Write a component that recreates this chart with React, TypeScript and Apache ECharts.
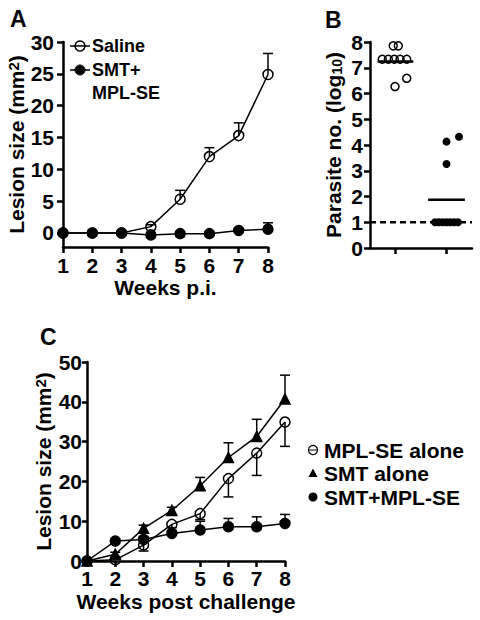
import React, { useEffect, useRef } from 'react';
import * as echarts from 'echarts';

// ---------- Panel A ----------
const weeks = [1, 2, 3, 4, 5, 6, 7, 8];
const yTicksA = [0, 5, 10, 15, 20, 25, 30];
const salineA = [0, 0, 0, 1.0, 5.3, 12.0, 15.3, 24.9];
const salineAErr = [0, 0, 0, 0.3, 1.4, 1.4, 2.0, 3.3];
const smtMplA = [0, 0, 0, -0.3, -0.1, -0.1, 0.4, 0.6];
const smtMplAErr = [0, 0, 0, 0, 0, 0, 0.3, 1.0];

// ---------- Panel B ----------
const groupPositions = [1, 3];
const salineB = [7.85, 7.85, 7.33, 7.33, 7.33, 7.33, 7.33, 6.27, 6.59];
const salineBJitter = [-0.09, 0.11, -0.52, -0.28, -0.05, 0.18, 0.44, -0.02, 0.44];
const smtMplB = [4.13, 4.32, 3.26, 1, 1, 1, 1, 1, 1, 1];
const smtMplBJitter = [0, 0.49, 0, -0.45, -0.3, -0.15, 0, 0.15, 0.3, 0.45];
const detectionLimit = 1;

// ---------- Panel C ----------
const mplC = [0, 0.3, 4.0, 9.2, 11.9, 20.7, 27.1, 34.9];
const mplCErr = [0, 0, 1.5, 0.8, 1.5, 4.6, 5.6, 6.1];
const smtC = [0, 1.7, 8.2, 12.7, 18.9, 26.0, 31.3, 40.7];
const smtCErr = [0, 0.5, 0.8, 0.8, 2.1, 3.7, 4.3, 6.0];
const comboC = [0, 5.0, 5.4, 6.9, 7.8, 8.6, 8.6, 9.4];
const comboCErr = [0, 0.5, 0.8, 0.8, 2.2, 2.1, 2.5, 2.3];

const FONT = '"Liberation Sans", Arial, Helvetica, sans-serif';
const BLACK = '#000';

const labelStyle = { color: BLACK, fontSize: 21, fontWeight: 'bold' as const, fontFamily: FONT };
const nameStyle = {
  color: BLACK,
  fontSize: 21,
  fontWeight: 'bold' as const,
  fontFamily: FONT,
  rich: {
    sup: { fontSize: 15, fontWeight: 'bold', fontFamily: FONT, color: BLACK, verticalAlign: 'top', lineHeight: 21 },
    sub: { fontSize: 14, fontWeight: 'bold', fontFamily: FONT, color: BLACK, verticalAlign: 'bottom', lineHeight: 21 },
  },
};
const axisLine = { show: true, onZero: false, lineStyle: { color: BLACK, width: 2.5 } };
const axisTick = { show: true, length: 6, lineStyle: { color: BLACK, width: 2.5 } };

const errBar = (dir: number, cap: number) => (_params: any, api: any) => {
  const x = api.value(0);
  const y = api.value(1);
  const e = api.value(2);
  if (!e) return { type: 'group', children: [] };
  const p0 = api.coord([x, y]);
  const p1 = api.coord([x, y + dir * e]);
  return {
    type: 'group',
    children: [
      { type: 'line', shape: { x1: p0[0], y1: p0[1], x2: p1[0], y2: p1[1] }, style: { stroke: BLACK, lineWidth: 1.5 } },
      { type: 'line', shape: { x1: p1[0] - cap / 2, y1: p1[1], x2: p1[0] + cap / 2, y2: p1[1] }, style: { stroke: BLACK, lineWidth: 1.5 } },
    ],
  };
};

const errSeries = (idx: number, vals: number[], errs: number[], dir: number) => ({
  type: 'custom',
  xAxisIndex: idx,
  yAxisIndex: idx,
  clip: false,
  silent: true,
  encode: { x: 0, y: 1 },
  data: weeks.map((w, i) => [w, vals[i], errs[i]]),
  renderItem: errBar(dir, 10),
  z: 2,
});

const lineSeries = (idx: number, name: string, vals: number[], symbol: string, filled: boolean, size = 10) => ({
  type: 'line',
  name,
  xAxisIndex: idx,
  yAxisIndex: idx,
  data: weeks.map((w, i) => [w, vals[i]]),
  symbol,
  symbolSize: size,
  showSymbol: true,
  clip: false,
  lineStyle: { color: BLACK, width: 1.5 },
  itemStyle: { color: filled ? BLACK : 'rgba(0,0,0,0)', borderColor: BLACK, borderWidth: 1.5 },
  z: 3,
});

const mean = (a: number[]) => a.reduce((s, v) => s + v, 0) / a.length;

const textEl = (text: string, x: number, y: number, size: number, align = 'left') => ({
  type: 'text',
  x,
  y,
  style: { text, fill: BLACK, fontSize: size, fontWeight: 'bold', fontFamily: FONT, align, verticalAlign: 'middle' },
});

const option: any = {
  animation: false,
  backgroundColor: '#fff',
  grid: [
    { left: 63, top: 42, width: 205, height: 205, containLabel: false, outerBoundsMode: 'none' },
    { left: 370, top: 42, width: 102, height: 206, containLabel: false, outerBoundsMode: 'none' },
    { left: 87, top: 362, width: 198, height: 199, containLabel: false, outerBoundsMode: 'none' },
  ],
  xAxis: [
    {
      gridIndex: 0, type: 'value', min: 1, max: 8, interval: 1,
      axisLine, axisTick, splitLine: { show: false },
      axisLabel: { ...labelStyle, margin: 8 },
      name: 'Weeks p.i.', nameLocation: 'middle', nameGap: 27, nameTextStyle: nameStyle,
    },
    {
      gridIndex: 1, type: 'value', min: 0, max: 4,
      axisLine, axisTick: { ...axisTick, customValues: groupPositions }, splitLine: { show: false },
      axisLabel: { show: false },
    },
    {
      gridIndex: 2, type: 'value', min: 1, max: 8, interval: 1,
      axisLine, axisTick, splitLine: { show: false },
      axisLabel: { ...labelStyle, margin: 7 },
      name: 'Weeks post challenge', nameLocation: 'middle', nameGap: 30, nameTextStyle: nameStyle,
    },
  ],
  yAxis: [
    {
      gridIndex: 0, type: 'value', min: -2.2, max: 30,
      axisLine, axisTick: { ...axisTick, customValues: yTicksA }, splitLine: { show: false },
      axisLabel: { ...labelStyle, margin: 9, customValues: yTicksA },
      name: 'Lesion size (mm{sup|2})', nameLocation: 'middle', nameRotate: 90, nameGap: 27, nameTextStyle: nameStyle,
    },
    {
      gridIndex: 1, type: 'value', min: 0, max: 8, interval: 1,
      axisLine, axisTick, splitLine: { show: false },
      axisLabel: { ...labelStyle, margin: 7 },
      name: 'Parasite no. (log{sub|10})', nameLocation: 'middle', nameRotate: 90, nameGap: 26, nameTextStyle: nameStyle,
    },
    {
      gridIndex: 2, type: 'value', min: 0, max: 50, interval: 10,
      axisLine, axisTick: { ...axisTick, length: 5 }, splitLine: { show: false },
      axisLabel: { ...labelStyle, margin: 5 },
      name: 'Lesion size (mm{sup|2})', nameLocation: 'middle', nameRotate: 90, nameGap: 33, nameTextStyle: nameStyle,
    },
  ],
  series: [
    // Panel A
    errSeries(0, salineA, salineAErr, 1),
    lineSeries(0, 'Saline', salineA, 'circle', false),
    errSeries(0, smtMplA, smtMplAErr, 1),
    lineSeries(0, 'SMT+MPL-SE', smtMplA, 'circle', true),
    // Panel B
    {
      type: 'line', xAxisIndex: 1, yAxisIndex: 1, silent: true, symbol: 'none',
      data: [[0, detectionLimit], [4, detectionLimit]],
      lineStyle: { color: BLACK, width: 2.5, type: [6, 4] }, z: 1,
    },
    {
      type: 'line', xAxisIndex: 1, yAxisIndex: 1, silent: true, symbol: 'none',
      data: [[groupPositions[0] - 0.7, mean(salineB)], [groupPositions[0] + 0.7, mean(salineB)]],
      lineStyle: { color: BLACK, width: 2.5 }, z: 1,
    },
    {
      type: 'line', xAxisIndex: 1, yAxisIndex: 1, silent: true, symbol: 'none',
      data: [[groupPositions[1] - 0.72, mean(smtMplB)], [groupPositions[1] + 0.72, mean(smtMplB)]],
      lineStyle: { color: BLACK, width: 2.5 }, z: 1,
    },
    {
      type: 'scatter', xAxisIndex: 1, yAxisIndex: 1, symbol: 'circle', symbolSize: 8,
      data: salineB.map((v, i) => [groupPositions[0] + salineBJitter[i], v]),
      itemStyle: { color: 'rgba(0,0,0,0)', borderColor: BLACK, borderWidth: 1.5, opacity: 1 }, z: 3,
    },
    {
      type: 'scatter', xAxisIndex: 1, yAxisIndex: 1, symbol: 'circle', symbolSize: 8,
      data: smtMplB.map((v, i) => [groupPositions[1] + smtMplBJitter[i], v]),
      itemStyle: { color: BLACK, opacity: 1 }, z: 3,
    },
    // Panel C
    errSeries(2, mplC, mplCErr, -1),
    errSeries(2, smtC, smtCErr, 1),
    errSeries(2, comboC, comboCErr, 1),
    lineSeries(2, 'MPL-SE alone', mplC, 'circle', false),
    lineSeries(2, 'SMT alone', smtC, 'triangle', true, 10),
    lineSeries(2, 'SMT+MPL-SE', comboC, 'circle', true),
  ],
  graphic: [
    textEl('A', 10, 19, 23),
    textEl('B', 325, 20, 23),
    textEl('C', 40, 337, 23),
    // Legend A
    { type: 'line', shape: { x1: 70, y1: 46, x2: 90, y2: 46 }, style: { stroke: BLACK, lineWidth: 1.5 } },
    { type: 'circle', shape: { cx: 80, cy: 46, r: 5 }, style: { fill: 'rgba(0,0,0,0)', stroke: BLACK, lineWidth: 1.5 } },
    textEl('Saline', 92, 46, 18),
    { type: 'line', shape: { x1: 70, y1: 70, x2: 90, y2: 70 }, style: { stroke: BLACK, lineWidth: 1.5 } },
    { type: 'circle', shape: { cx: 80, cy: 70, r: 5 }, style: { fill: BLACK, stroke: BLACK, lineWidth: 1 } },
    textEl('SMT+', 92, 70, 18),
    textEl('MPL-SE', 92, 93, 18),
    // Legend C
    { type: 'line', shape: { x1: 308.5, y1: 450, x2: 317.5, y2: 450 }, style: { stroke: BLACK, lineWidth: 1 } },
    { type: 'circle', shape: { cx: 313, cy: 450, r: 4.5 }, style: { fill: 'rgba(0,0,0,0)', stroke: BLACK, lineWidth: 1.2 } },
    textEl('MPL-SE alone', 324, 450, 21),
    { type: 'polygon', shape: { points: [[313, 468.5], [317.5, 477], [308.5, 477]] }, style: { fill: BLACK } },
    textEl('SMT alone', 324, 473, 21),
    { type: 'circle', shape: { cx: 313, cy: 497, r: 4.5 }, style: { fill: BLACK } },
    textEl('SMT+MPL-SE', 324, 497, 21),
  ],
};

export default function App() {
  const ref = useRef<HTMLDivElement>(null);
  useEffect(() => {
    document.body.style.margin = '0';
    const chart = echarts.init(ref.current!, null, { renderer: 'svg' });
    chart.setOption(option);
    return () => chart.dispose();
  }, []);
  return <div ref={ref} style={{ width: 480, height: 620, background: '#fff' }} />;
}
